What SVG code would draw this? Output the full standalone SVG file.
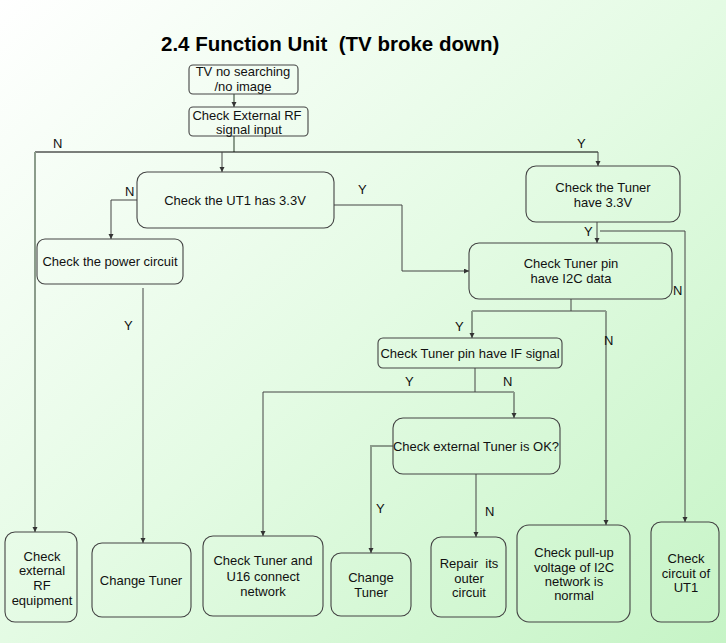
<svg xmlns="http://www.w3.org/2000/svg" width="726" height="643" viewBox="0 0 726 643">
<defs>
<linearGradient id="bg" x1="0" y1="0" x2="1" y2="1">
<stop offset="0" stop-color="#ffffff"/>
<stop offset="0.5" stop-color="#e4fbe4"/>
<stop offset="1" stop-color="#c6f4c6"/>
</linearGradient>
<marker id="ar" markerUnits="userSpaceOnUse" markerWidth="6" markerHeight="6" refX="5" refY="2.5" orient="auto">
<path d="M0,0 L5,2.5 L0,5 z" fill="#333"/>
</marker>
<style>
.box{fill:none;stroke:#444;stroke-width:1.1}
.t{font-family:"Liberation Sans",Arial,sans-serif;font-size:13px;fill:#111;text-anchor:middle}
.lb{font-family:"Liberation Sans",Arial,sans-serif;font-size:13px;fill:#111}
.c{fill:none;stroke:#444;stroke-width:1}
.g{fill:none;stroke:#8b9c8b;stroke-width:2}
.k{fill:none;stroke:#000;stroke-width:1}
</style>
</defs>
<rect x="0" y="0" width="726" height="643" fill="url(#bg)"/>
<text x="161" y="51" xml:space="preserve" style="font-family:'Liberation Sans',Arial,sans-serif;font-size:20.5px;font-weight:bold;fill:#000">2.4 Function Unit  (TV broke down)</text>

<g id="connectors">
<path class="g" d="M234,94 V107" marker-end="url(#ar)"/>
<path class="g" d="M234,136 V152"/>
<path class="k" d="M35,152 H598"/>
<path class="g" d="M35,152 V532" marker-end="url(#ar)"/>
<path class="c" d="M222,152 V172" marker-end="url(#ar)"/>
<path class="c" d="M598,152 V166" marker-end="url(#ar)"/>
<path class="c" d="M137,200 H111 V239" marker-end="url(#ar)"/>
<path class="c" d="M143,288 V543" marker-end="url(#ar)"/>
<path class="c" d="M334,205 H402 V271 H469" marker-end="url(#ar)"/>
<path class="c" d="M597,222 V243" marker-end="url(#ar)"/>
<path class="c" d="M600,231 H685 V522" marker-end="url(#ar)"/>
<path class="c" d="M571,299 V311 H606"/>
<path class="g" d="M606,311 V525" marker-end="url(#ar)"/>
<path class="c" d="M571,311 H472"/>
<path class="g" d="M472,311 V338" marker-end="url(#ar)"/>
<path class="c" d="M475,368 V392"/>
<path class="c" d="M263,392 H514"/>
<path class="g" d="M514,392 V418" marker-end="url(#ar)"/>
<path class="c" d="M263,392 V536" marker-end="url(#ar)"/>
<path class="g" d="M393,446 H371 V553" marker-end="url(#ar)"/>
<path class="c" d="M476,474 V537" marker-end="url(#ar)"/>
<text class="lb" x="53" y="148">N</text>
<text class="lb" x="577" y="148">Y</text>
<text class="lb" x="125" y="196">N</text>
<text class="lb" x="358" y="194">Y</text>
<text class="lb" x="124" y="330">Y</text>
<text class="lb" x="584" y="236">Y</text>
<text class="lb" x="673" y="295">N</text>
<text class="lb" x="455" y="331">Y</text>
<text class="lb" x="604" y="345">N</text>
<text class="lb" x="405" y="386">Y</text>
<text class="lb" x="503" y="386">N</text>
<text class="lb" x="376" y="513">Y</text>
<text class="lb" x="485" y="516">N</text>
</g>

<g id="n-start">
<rect class="box" x="189" y="65" width="109" height="29" rx="4"/>
<text class="t" x="243" y="76">TV no searching</text>
<text class="t" x="243" y="91">/no image</text>
</g>
<g id="n-rf">
<rect class="box" x="189" y="107" width="119" height="29" rx="4"/>
<text class="t" x="247" y="119.5">Check External RF</text>
<text class="t" x="249" y="133.5">signal input</text>
</g>
<g id="n-ut1">
<rect class="box" x="137" y="172" width="197" height="56" rx="10"/>
<text class="t" x="235" y="205">Check the UT1 has 3.3V</text>
</g>
<g id="n-power">
<rect class="box" x="37" y="239" width="146" height="45" rx="8"/>
<text class="t" x="110" y="266">Check the power circuit</text>
</g>
<g id="n-tuner33">
<rect class="box" x="526" y="166" width="154" height="56" rx="10"/>
<text class="t" x="603" y="191.5">Check the Tuner</text>
<text class="t" x="603" y="206.5">have 3.3V</text>
</g>
<g id="n-i2c">
<rect class="box" x="469" y="243" width="203" height="56" rx="10"/>
<text class="t" x="571" y="267.5">Check Tuner pin</text>
<text class="t" x="571" y="282.5">have I2C data</text>
</g>
<g id="n-if">
<rect class="box" x="378" y="338" width="184" height="30" rx="5"/>
<text class="t" x="470" y="357.5">Check Tuner pin have IF signal</text>
</g>
<g id="n-exttuner">
<rect class="box" x="393" y="418" width="167" height="56" rx="10"/>
<text class="t" x="476" y="450.5">Check external Tuner is OK?</text>
</g>
<g id="n-extrf">
<rect class="box" x="5" y="532" width="72" height="90" rx="10"/>
<text class="t" x="42" y="560.5">Check</text>
<text class="t" x="42" y="574.5">external</text>
<text class="t" x="42" y="589.5">RF</text>
<text class="t" x="42" y="604.5">equipment</text>
</g>
<g id="n-change1">
<rect class="box" x="92" y="543" width="99" height="74" rx="10"/>
<text class="t" x="141" y="585">Change Tuner</text>
</g>
<g id="n-u16">
<rect class="box" x="203" y="536" width="120" height="80" rx="10"/>
<text class="t" x="263" y="564.5">Check Tuner and</text>
<text class="t" x="263" y="580.5">U16 connect</text>
<text class="t" x="263" y="595.5">network</text>
</g>
<g id="n-change2">
<rect class="box" x="331" y="553" width="80" height="63" rx="10"/>
<text class="t" x="371" y="581.5">Change</text>
<text class="t" x="371" y="596.5">Tuner</text>
</g>
<g id="n-repair">
<rect class="box" x="431" y="537" width="75" height="80" rx="10"/>
<text class="t" x="469" y="567.5" xml:space="preserve">Repair  its</text>
<text class="t" x="469" y="582.5">outer</text>
<text class="t" x="469" y="596.5">circuit</text>
</g>
<g id="n-pullup">
<rect class="box" x="517" y="525" width="113" height="97" rx="12"/>
<text class="t" x="574" y="556.5">Check pull-up</text>
<text class="t" x="574" y="571.5">voltage of I2C</text>
<text class="t" x="574" y="585.5">network is</text>
<text class="t" x="574" y="599.5">normal</text>
</g>
<g id="n-ut1circ">
<rect class="box" x="651" y="522" width="68" height="100" rx="10"/>
<text class="t" x="686" y="562.5">Check</text>
<text class="t" x="686" y="577.5">circuit of</text>
<text class="t" x="686" y="591.5">UT1</text>
</g>
</svg>
